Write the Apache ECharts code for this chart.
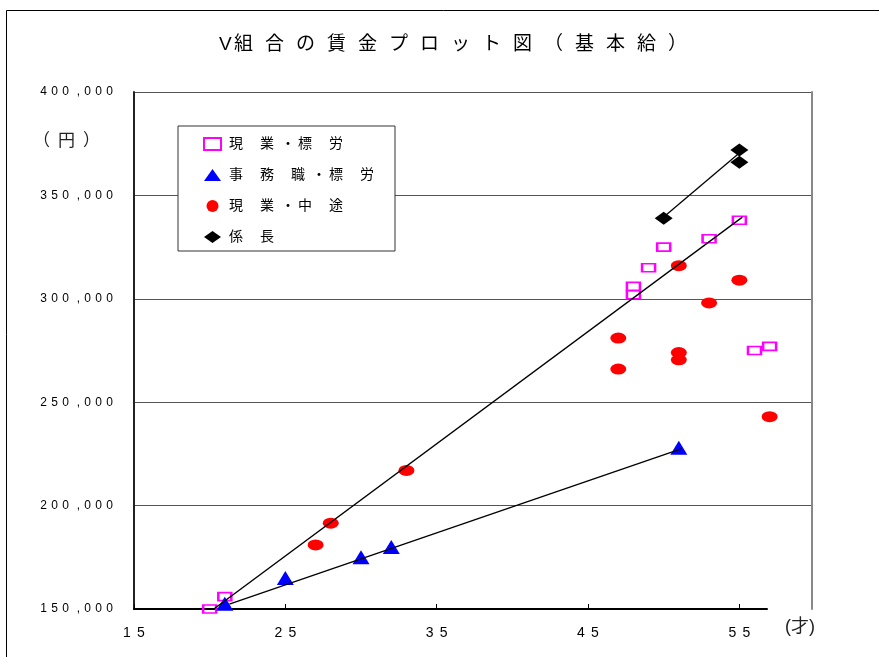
<!DOCTYPE html>
<html>
<head>
<meta charset="utf-8">
<script src="https://cdn.jsdelivr.net/npm/echarts@6/dist/echarts.min.js"></script>
<style>
  html, body { margin: 0; padding: 0; background: #fff; }
  #chart { width: 879px; height: 657px; }
</style>
</head>
<body>
<div id="chart"></div>
<script>
// データ: [年齢, 基本給]
const genbaHyoro = [[20, 150000], [21, 156000], [48, 306000], [48, 302000], [49, 315000],
  [50, 325000], [53, 329000], [55, 338000], [56, 275000], [57, 277000]];
const jimuHyoro = [[21, 152500], [25, 165000], [30, 175000], [32, 180000], [51, 228000]];
const genbaChuto = [[27, 181000], [28, 191500], [33, 217000], [47, 281000], [47, 266000],
  [51, 274000], [51, 270500], [51, 316000], [53, 298000], [55, 309000], [57, 243000]];
const kakaricho = [[50, 339000], [55, 372000], [55, 366000]];
// 線
const lineGenba = [[20, 148500], [55.2, 339500]];
const lineJimu = [[21.3, 152400], [51.2, 227600]];
const lineKakari = [[50, 339500], [55, 370500]];

const xTicks = [15, 25, 35, 45, 55];
const seriesNames = ['現業・標労', '事務職・標労', '現業・中途', '係長'];

const FONT = "'Liberation Sans', 'Noto Sans CJK JP', sans-serif";

// 1文字ずつ区切って字間を空ける
function spaced(s) {
  const chars = s.split('');
  return chars.map(function (c, i) {
    let k = 'w';
    if (c === '・') k = 'dot';
    else if (chars[i + 1] === '・') k = 'wn';
    else if (/[0-9]/.test(c)) k = 'n';
    else if (c === ',') k = 'c';
    else if (c === 'V') k = 'v';
    return '{' + k + '|' + c + '}';
  }).join('');
}

const chart = echarts.init(document.getElementById('chart'));
chart.setOption({
  animation: false,
  backgroundColor: '#fff',
  title: {
    text: spaced('V組合の賃金プロット図（基本給）'),
    left: 214,
    top: 30,
    textStyle: {
      fontFamily: FONT,
      fontWeight: 'normal',
      rich: {
        v: { width: 15, fontSize: 19, fontFamily: FONT, color: '#000' },
        w: { width: 31, fontSize: 19, fontFamily: FONT, color: '#000' },
      },
    },
  },
  legend: {
    data: seriesNames,
    orient: 'vertical',
    left: 178,
    top: 126,
    padding: [9, 4, 5, 25],
    itemGap: 13,
    itemWidth: 17,
    itemHeight: 12,
    borderColor: '#333',
    borderWidth: 1,
    borderRadius: 0,
    backgroundColor: '#fff',
    formatter: function (name) { return spaced(name); },
    textStyle: {
      padding: [0, 0, 0, 3],
      lineHeight: 18,
      rich: {
        w: { width: 31, fontSize: 14, fontFamily: FONT, color: '#000', lineHeight: 18 },
        wn: { width: 21, fontSize: 14, fontFamily: FONT, color: '#000', lineHeight: 18 },
        dot: { width: 17, fontSize: 14, fontFamily: FONT, color: '#000', lineHeight: 18 },
      },
    },
  },
  graphic: [
    {
      type: 'rect',
      shape: { x: 6.5, y: 10.5, width: 1000, height: 1000 },
      style: { fill: 'none', stroke: '#000', lineWidth: 1 },
      silent: true,
    },
    {
      type: 'text',
      left: 33,
      top: 133,
      style: {
        text: spaced('（円）'),
        rich: { w: { width: 25, fontSize: 17, fontFamily: FONT, fill: '#222' } },
      },
    },
    {
      type: 'text',
      left: 785,
      top: 618,
      style: { text: '(才)', fontSize: 18, fontFamily: FONT, fill: '#222' },
    },
  ],
  grid: [
    { left: 134, right: 67, top: 92, bottom: 48 },
    { left: 134, right: 112, top: 92, bottom: 48 },
  ],
  xAxis: [
    {
      gridIndex: 0,
      type: 'value',
      min: 15,
      max: 59.8,
      axisLine: { show: false },
      axisTick: {
        show: true,
        inside: true,
        length: 5,
        customValues: xTicks,
        lineStyle: { color: '#000', width: 1 },
      },
      axisLabel: {
        customValues: xTicks,
        margin: 17,
        formatter: function (v) { return spaced(String(v)); },
        rich: { n: { width: 14, fontSize: 14, fontFamily: FONT, color: '#000' } },
      },
      splitLine: { show: false },
    },
    {
      gridIndex: 1,
      type: 'value',
      min: 15,
      max: 57,
      axisLine: { lineStyle: { color: '#000', width: 2 } },
      axisTick: { show: false },
      axisLabel: { show: false },
      splitLine: { show: false },
    },
  ],
  yAxis: [
    {
      gridIndex: 0,
      type: 'value',
      min: 150000,
      max: 400000,
      interval: 50000,
      axisLine: { show: true, lineStyle: { color: '#222', width: 2 } },
      axisTick: { show: false },
      axisLabel: {
        margin: 21,
        formatter: function (v) { return spaced(v.toLocaleString('en-US')); },
        rich: {
          n: { width: 11, fontSize: 12, fontFamily: FONT, color: '#000' },
          c: { width: 11, fontSize: 12, fontFamily: FONT, color: '#000' },
        },
      },
      splitLine: {
        show: true,
        showMinLine: false,
        lineStyle: { color: '#555', width: 1 },
      },
    },
    {
      gridIndex: 0,
      type: 'value',
      position: 'right',
      min: 150000,
      max: 400000,
      interval: 50000,
      axisLine: { show: true, lineStyle: { color: '#888', width: 2 } },
      axisTick: { show: false },
      axisLabel: { show: false },
      splitLine: { show: false },
    },
    {
      gridIndex: 1,
      type: 'value',
      min: 150000,
      max: 400000,
      show: false,
    },
  ],
  series: [
    {
      name: '現業・標労',
      type: 'scatter',
      data: genbaHyoro,
      symbol: 'rect',
      symbolSize: [13, 8],
      clip: false,
      itemStyle: { color: 'rgba(255,255,255,0)', borderColor: '#ff00ff', borderWidth: 2, opacity: 1 },
    },
    {
      name: '事務職・標労',
      type: 'scatter',
      data: jimuHyoro,
      symbol: 'triangle',
      symbolSize: [17, 14],
      clip: false,
      itemStyle: { color: '#0000ff', opacity: 1 },
    },
    {
      name: '現業・中途',
      type: 'scatter',
      data: genbaChuto,
      symbol: 'circle',
      symbolSize: [16, 11],
      clip: false,
      itemStyle: { color: '#ff0000', opacity: 1 },
    },
    {
      name: '係長',
      type: 'scatter',
      data: kakaricho,
      symbol: 'diamond',
      symbolSize: [18, 13],
      clip: false,
      itemStyle: { color: '#000', opacity: 1 },
    },
    {
      type: 'line', data: lineGenba, symbol: 'none', silent: true, z: 5,
      lineStyle: { color: '#000', width: 1.3 },
    },
    {
      type: 'line', data: lineJimu, symbol: 'none', silent: true, z: 5,
      lineStyle: { color: '#000', width: 1.3 },
    },
    {
      type: 'line', data: lineKakari, symbol: 'none', silent: true, z: 5,
      lineStyle: { color: '#000', width: 1.3 },
    },
  ],
});
</script>
</body>
</html>
